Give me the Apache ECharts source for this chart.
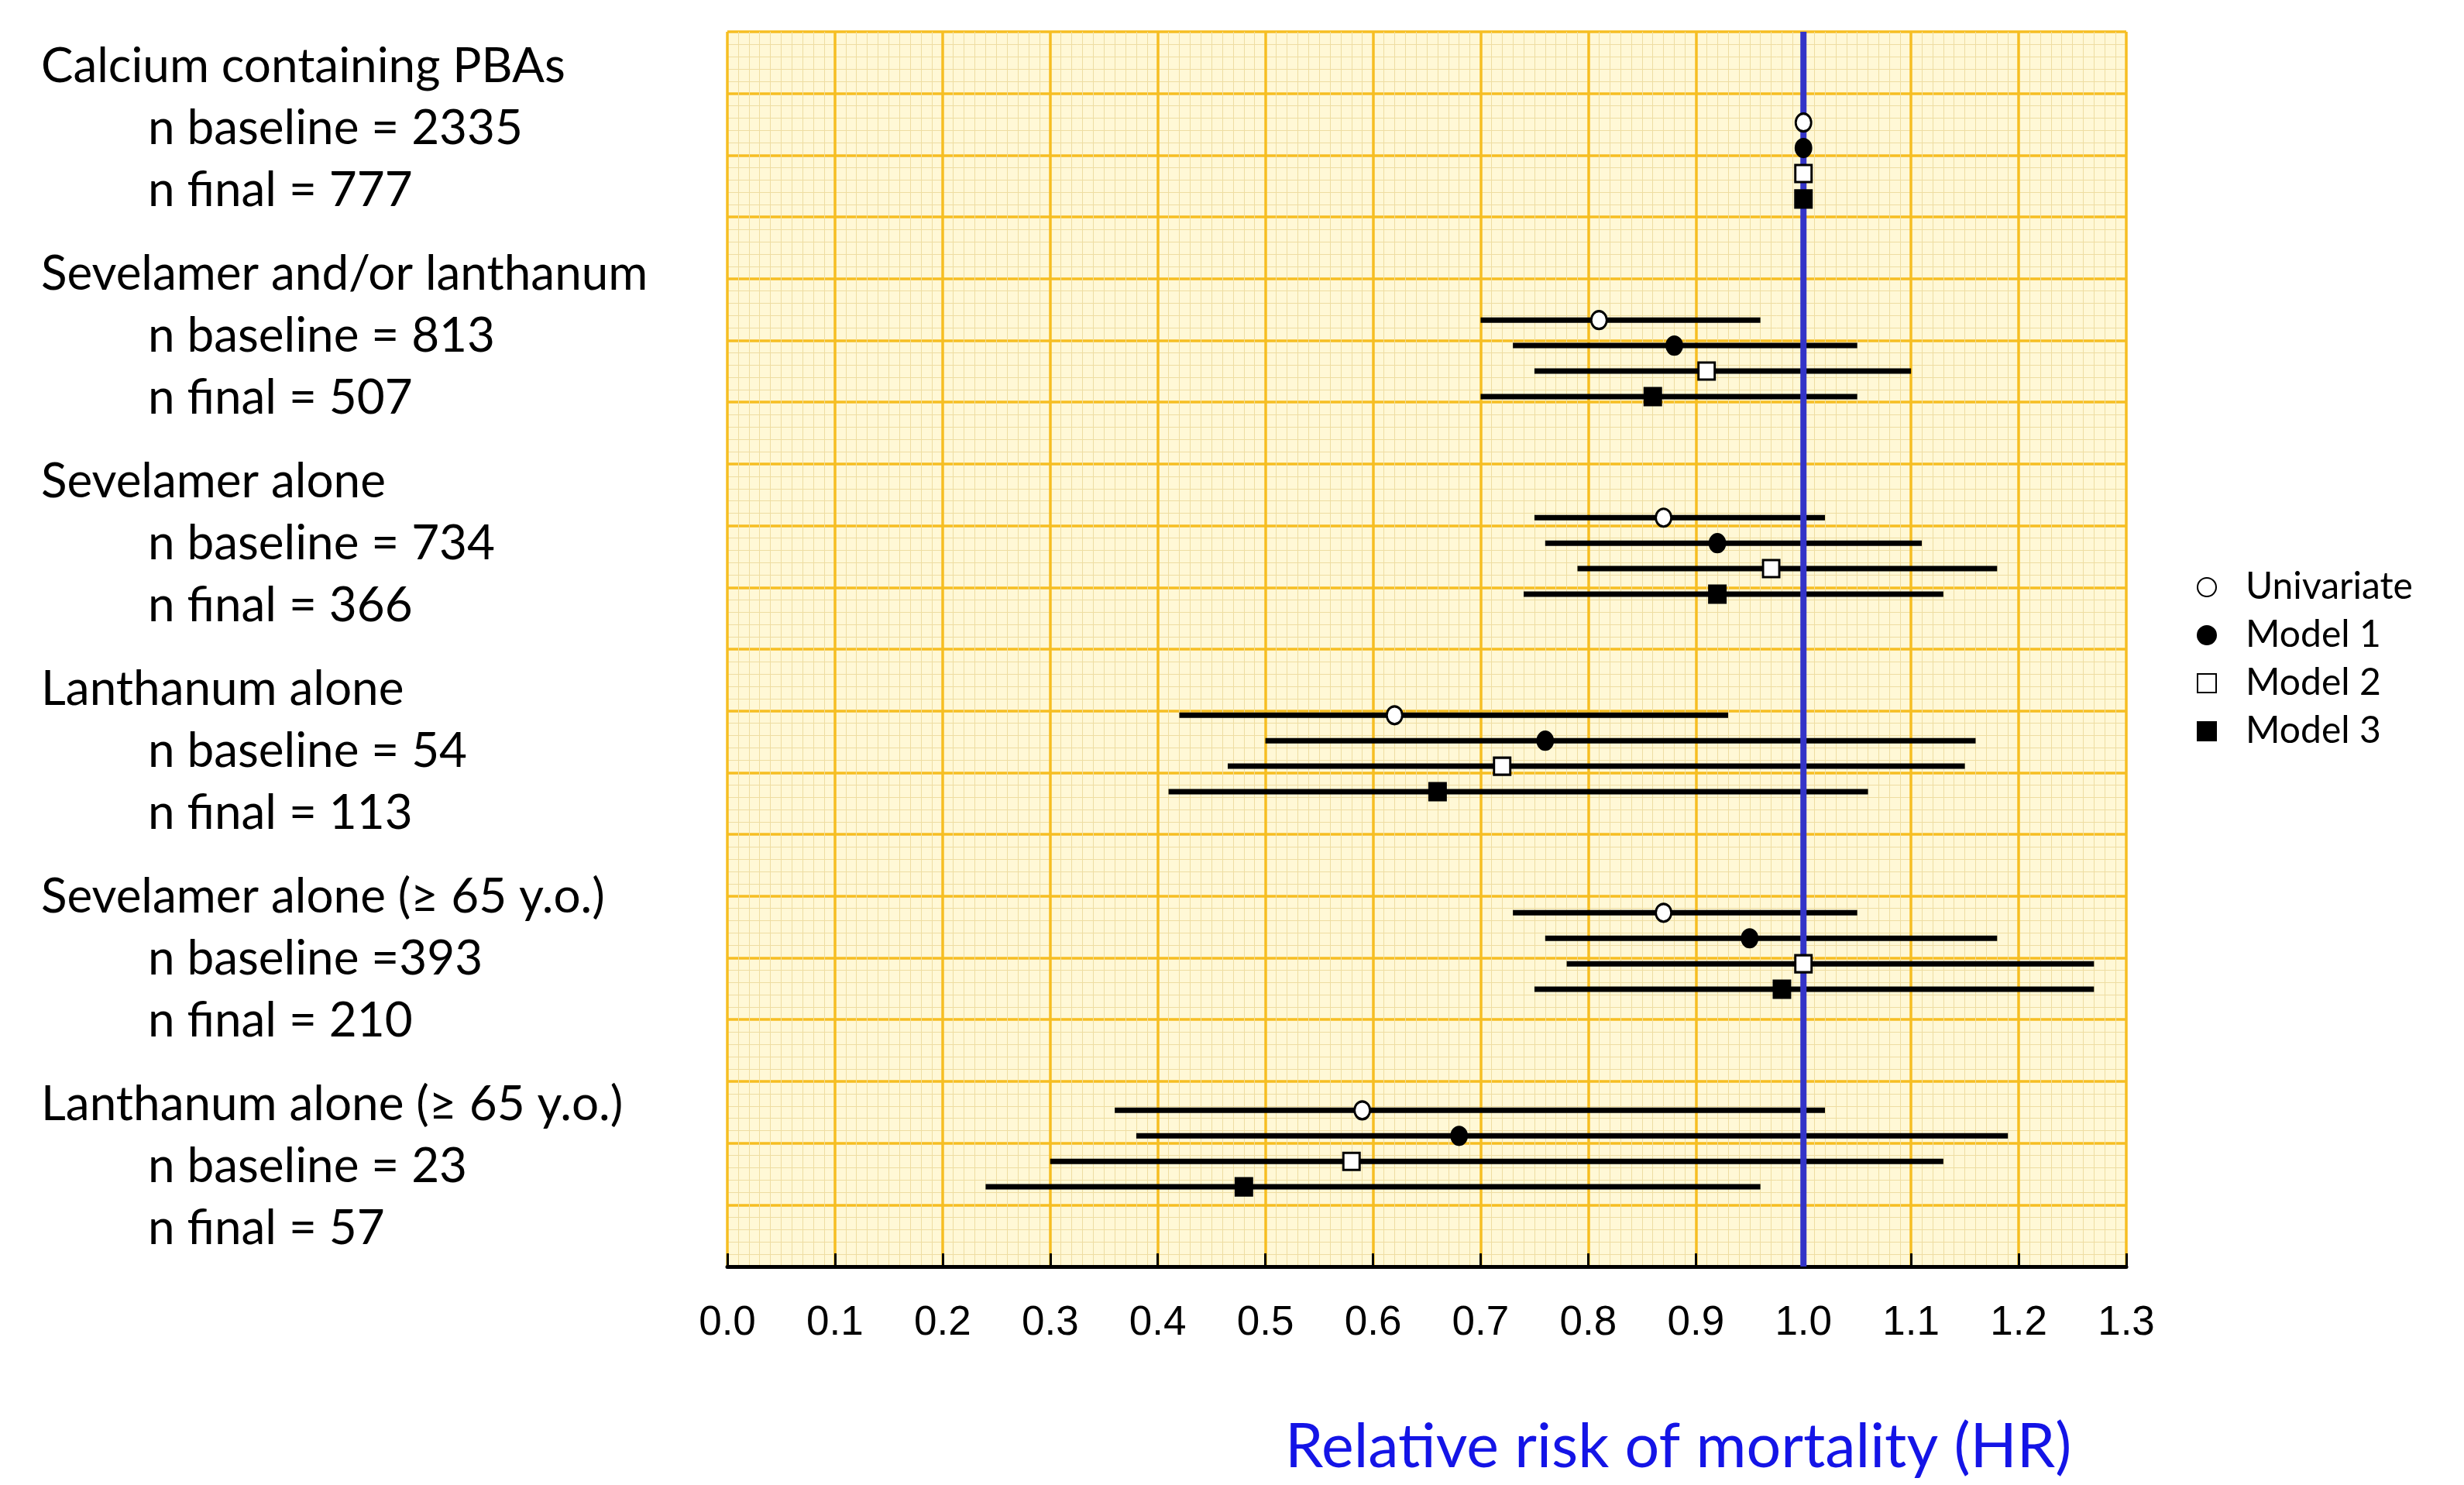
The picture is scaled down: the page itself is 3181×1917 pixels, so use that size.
<!DOCTYPE html>
<html>
<head>
<meta charset="utf-8">
<script src="https://cdn.jsdelivr.net/npm/echarts@6/dist/echarts.min.js"></script>
<style>html,body{margin:0;padding:0;background:#fff;}#c{width:3181px;height:1917px;}</style>
</head>
<body>
<div id="c"></div>
<script>
// ---------------- data ----------------
const groups = ['Calcium containing PBAs', 'Sevelamer and/or lanthanum', 'Sevelamer alone', 'Lanthanum alone', 'Sevelamer alone (\u2265 65 y.o.)', 'Lanthanum alone (\u2265 65 y.o.)'];
const nBaseline = ['n baseline = 2335', 'n baseline = 813', 'n baseline = 734', 'n baseline = 54', 'n baseline =393', 'n baseline = 23'];
const nFinal = ['n final = 777', 'n final = 507', 'n final = 366', 'n final = 113', 'n final = 210', 'n final = 57'];
const models = ['Univariate', 'Model 1', 'Model 2', 'Model 3'];

const univariateHR = [1.00, 0.81, 0.87, 0.62, 0.87, 0.59];
const univariateLo = [1.00, 0.70, 0.75, 0.42, 0.73, 0.36];
const univariateHi = [1.00, 0.96, 1.02, 0.93, 1.05, 1.02];

const model1HR = [1.00, 0.88, 0.92, 0.76, 0.95, 0.68];
const model1Lo = [1.00, 0.73, 0.76, 0.50, 0.76, 0.38];
const model1Hi = [1.00, 1.05, 1.11, 1.16, 1.18, 1.19];

const model2HR = [1.00, 0.91, 0.97, 0.72, 1.00, 0.58];
const model2Lo = [1.00, 0.75, 0.79, 0.465, 0.78, 0.30];
const model2Hi = [1.00, 1.10, 1.18, 1.15, 1.27, 1.13];

const model3HR = [1.00, 0.86, 0.92, 0.66, 0.98, 0.48];
const model3Lo = [1.00, 0.70, 0.74, 0.41, 0.75, 0.24];
const model3Hi = [1.00, 1.05, 1.13, 1.06, 1.27, 0.96];

const xTickLabels = ['0.0','0.1','0.2','0.3','0.4','0.5','0.6','0.7','0.8','0.9','1.0','1.1','1.2','1.3'];
const referenceHR = 1.0;
const axisTitle = 'Relative risk of mortality (HR)';

// ---------------- layout ----------------
const HR = [univariateHR, model1HR, model2HR, model3HR];
const LO = [univariateLo, model1Lo, model2Lo, model3Lo];
const HI = [univariateHi, model1Hi, model2Hi, model3Hi];
const groupStart = 1.47, groupStep = 3.2, rowStep = 0.413;
function yPos(g, m) { return groupStart + g * groupStep + m * rowStep; }

const symbols = ['circle', 'circle', 'rect', 'rect'];
const fills = ['#ffffff', '#000000', '#ffffff', '#000000'];
const sizes = [[20, 23], [20, 23], [21, 22], [21, 22]];

const labelFont = 'Lato';
const graphics = [];
groups.forEach((t, g) => {
  const base = 93 + 268 * g;
  graphics.push({type: 'text', left: 53, top: base - 38, style: {text: t, font: '62px Lato', fill: '#000'}});
  graphics.push({type: 'text', left: 191, top: base + 80 - 38, style: {text: nBaseline[g], font: '62px Lato', fill: '#000'}});
  graphics.push({type: 'text', left: 191, top: base + 160 - 38, style: {text: nFinal[g], font: '62px Lato', fill: '#000'}});
});
graphics.push({type: 'text', left: 1659, top: 1879 - 50, style: {text: axisTitle, font: '79px Lato', fill: '#1414E6'}});

const series = [];
models.forEach((name, m) => {
  series.push({
    type: 'custom', name: name + ' CI', silent: true, z: 2, clip: false,
    encode: {x: [0, 1], y: 2},
    data: groups.map((_, g) => [LO[m][g], HI[m][g], yPos(g, m)]),
    renderItem: function (params, api) {
      const a = api.coord([api.value(0), api.value(2)]);
      const b = api.coord([api.value(1), api.value(2)]);
      return {type: 'line', shape: {x1: a[0], y1: a[1], x2: b[0], y2: b[1]}, style: {stroke: '#000', lineWidth: 7}};
    }
  });
});
series.push({
  type: 'line', name: 'reference', silent: true, z: 3, symbol: 'none',
  data: [[referenceHR, 0], [referenceHR, 20]],
  lineStyle: {color: '#3434C8', width: 8}
});
models.forEach((name, m) => {
  series.push({
    type: 'scatter', name: name, z: 5, symbol: symbols[m], symbolSize: sizes[m],
    itemStyle: {color: fills[m], borderColor: '#000', borderWidth: 3, opacity: 1},
    data: groups.map((_, g) => [HR[m][g], yPos(g, m)])
  });
});

const chart = echarts.init(document.getElementById('c'), null, {renderer: 'canvas'});
chart.setOption({
  animation: false,
  backgroundColor: '#ffffff',
  grid: {left: 939, right: 436, top: 41, bottom: 282, show: true, backgroundColor: '#FFF8D6', borderWidth: 0},
  legend: {
    data: models, orient: 'vertical', left: 2831, top: 722, itemWidth: 24, itemHeight: 24, itemGap: 0,
    textStyle: {fontFamily: labelFont, fontSize: 48, color: '#000', lineHeight: 62, padding: [0, 0, 0, 33]}
  },
  xAxis: {
    type: 'value', min: 0, max: 1.3, interval: 0.1,
    axisLine: {show: true, onZero: false, lineStyle: {color: '#000', width: 5}},
    axisTick: {show: true, inside: true, length: 17, lineStyle: {color: '#000', width: 3}},
    axisLabel: {margin: 47, fontFamily: 'Liberation Sans', fontSize: 53, color: '#000',
      formatter: v => xTickLabels[Math.round(v * 10)]},
    splitLine: {show: true, lineStyle: {color: '#F6BE22', width: 3.5}},
    minorTick: {show: false, splitNumber: 10},
    minorSplitLine: {show: true, lineStyle: {color: '#EEDDA2', width: 1}}
  },
  yAxis: {
    type: 'value', min: 0, max: 20, interval: 1, inverse: true,
    axisLine: {show: false}, axisTick: {show: false}, axisLabel: {show: false},
    splitLine: {show: true, lineStyle: {color: '#F6BE22', width: 3.5}},
    minorTick: {show: false, splitNumber: 5},
    minorSplitLine: {show: true, lineStyle: {color: '#EEDDA2', width: 1}}
  },
  graphic: graphics,
  series: series
});
</script>
</body>
</html>
